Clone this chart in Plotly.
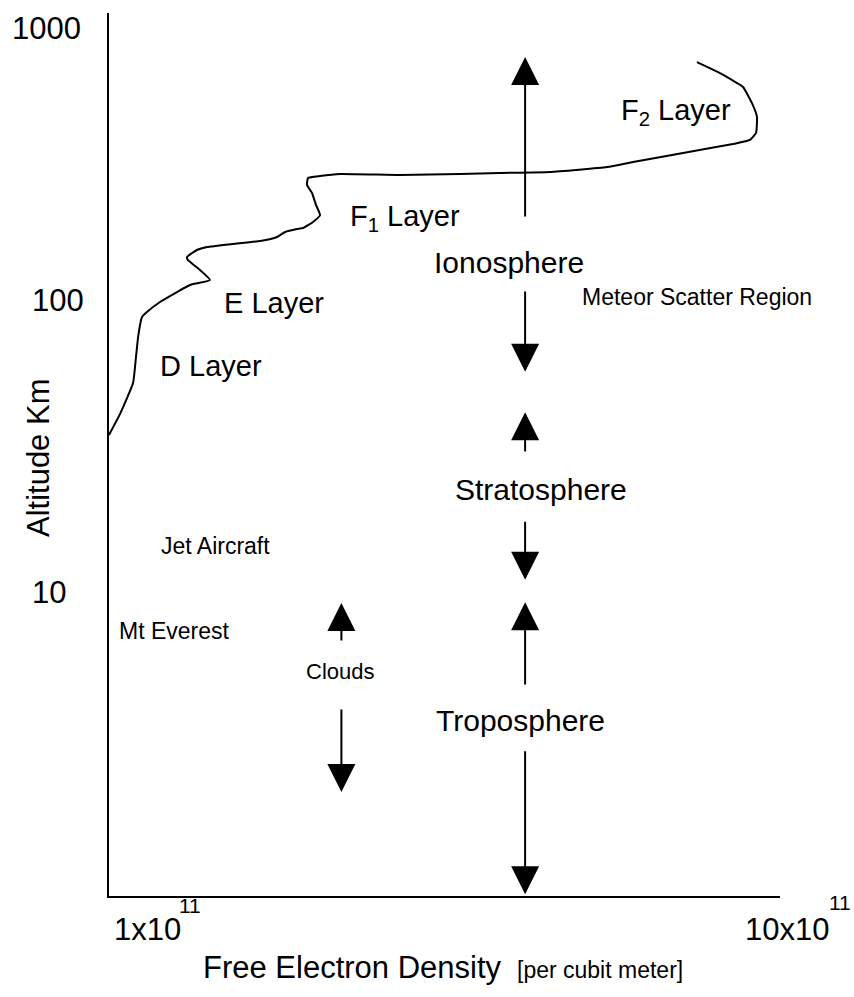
import numpy as np
import plotly.graph_objects as go

# Electron density profile (units of 1x10^11 per cubic metre) vs altitude (km)
density = [1.00, 1.04, 1.086, 1.097, 1.105, 1.12, 1.139, 1.191, 1.263, 1.32,
           1.414, 1.366, 1.311, 1.307, 1.352, 1.40, 1.53, 1.68, 1.78, 1.83,
           1.906, 1.946, 2.014, 2.063, 2.035, 2.007, 1.973, 1.98, 2.063, 2.21,
           2.715, 3.336, 3.825, 4.54, 5.525, 6.04, 7.17, 8.51, 9.02, 9.21,
           9.24, 9.08, 8.81, 8.63, 8.14, 7.52]
altitude = [34.9, 41.7, 53.3, 65.9, 77.6, 91.4, 95.2, 103.3, 112.1, 118.7,
            123.6, 134.2, 145.6, 149.2, 158, 161.9, 166, 170, 175.6, 183,
            187.5, 189, 198.6, 210, 228, 251.6, 268.6, 284.4, 289, 293.8,
            291.4, 293.8, 296.2, 298.7, 311, 324, 348.8, 375.4, 387.9, 410.7,
            468, 524.8, 597.7, 617.5, 670, 733]

# Region arrows: density column, tail altitude, head altitude
arrow_density = [4.17, 4.17, 4.17, 4.17, 4.17, 4.17, 2.22, 2.22]
arrow_from = [205, 114, 30.1, 17.4, 4.49, 2.67, 6.44, 3.75]
arrow_to = [764, 58.4, 42, 10.7, 8.9, 0.82, 8.85, 1.89]

# Region / layer labels placed at (density, altitude)
label_text = ["F<sub>2</sub> Layer", "F<sub>1</sub> Layer", "Ionosphere",
              "Meteor Scatter Region", "E Layer", "D Layer", "Stratosphere",
              "Jet Aircraft", "Mt Everest", "Clouds", "Troposphere"]
label_density = [7.0, 2.76, 3.95, 7.52, 1.76, 1.42, 4.4, 1.44, 1.25, 2.21, 4.1]
label_altitude = [488, 205, 143, 108, 102.5, 61.3, 22.4, 14.1, 7.04, 5.04, 3.4]
label_size = [29, 29, 30, 23, 29, 29, 30, 23, 23, 22, 30]

# Axis tick labels
y_tick_values = [1000, 100, 10]
y_tick_text = ["1000", "100", "10"]

FONT = "Liberation Sans, Arial, Helvetica, sans-serif"
BIG = 31

fig = go.Figure()
fig.add_trace(go.Scatter(
    x=density, y=altitude, mode="lines",
    line=dict(color="black", width=2, shape="spline", smoothing=0.4),
    hoverinfo="skip", showlegend=False,
))

annotations = []
for xd, a0, a1 in zip(arrow_density, arrow_from, arrow_to):
    annotations.append(dict(
        x=np.log10(xd), y=np.log10(a1), ax=np.log10(xd), ay=np.log10(a0),
        xref="x", yref="y", axref="x", ayref="y", text="",
        showarrow=True, arrowhead=2, arrowsize=2.8, arrowwidth=2,
        arrowcolor="black",
    ))


def text_note(x, y, text, size, xref="paper", yref="paper", **kw):
    return dict(x=x, y=y, xref=xref, yref=yref, text=text, showarrow=False,
                xanchor="center", yanchor="middle",
                font=dict(family=FONT, size=size, color="black"), **kw)


for t, xd, yd, s in zip(label_text, label_density, label_altitude, label_size):
    annotations.append(text_note(np.log10(xd), np.log10(yd), t, s,
                                 xref="x", yref="y"))

y_tick_x = [-0.0924, -0.076, -0.090]
y_tick_shift = [-4, 6, -4]
for v, t, px, sh in zip(y_tick_values, y_tick_text, y_tick_x, y_tick_shift):
    annotations.append(text_note(px, np.log10(v), t, BIG, yref="y", yshift=sh))

# x-axis end labels with raised exponents, axis titles
annotations += [
    text_note(0.058, -0.0385, "1x10", BIG),
    text_note(0.1207, -0.0102, "11", 21),
    text_note(1.0104, -0.0385, "10x10", BIG),
    text_note(1.089, -0.0068, "11", 21),
    text_note(0.3636, -0.0815, "Free Electron Density", BIG),
    text_note(0.732, -0.0838, "[per cubit meter]", 23),
    text_note(-0.1058, 0.496, "Altitude Km", BIG, textangle=-90),
]

axis_style = dict(showline=True, linecolor="black", linewidth=2, ticks="",
                  showticklabels=False, showgrid=False, zeroline=False)
fig.update_layout(
    width=854, height=997,
    margin=dict(l=109, r=74, t=13, b=101),
    paper_bgcolor="white", plot_bgcolor="white",
    xaxis=dict(type="log", range=[0, 1], **axis_style),
    yaxis=dict(type="log", range=[-0.0922, 3.039], **axis_style),
    annotations=annotations,
    showlegend=False,
)

fig.write_html("out.html")
